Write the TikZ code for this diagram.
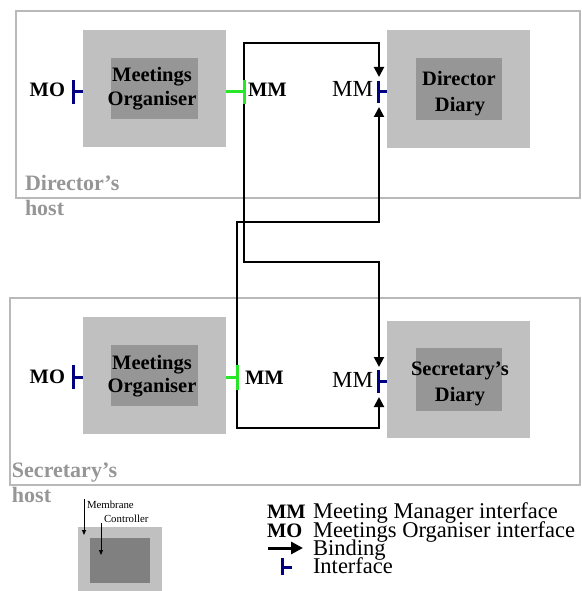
\documentclass[tikz,border=0pt]{standalone}
\usepackage{fontspec}
\setmainfont{Liberation Serif}
\usetikzlibrary{arrows.meta}
\definecolor{membrane}{RGB}{192,192,192}
\definecolor{ctrl}{RGB}{150,150,150}
\definecolor{ctrldark}{RGB}{128,128,128}
\definecolor{hostline}{RGB}{185,185,185}
\definecolor{hosttext}{RGB}{150,150,150}
\definecolor{itfblue}{RGB}{0,0,128}
\definecolor{itfgreen}{RGB}{40,230,40}
\begin{document}
\begin{tikzpicture}[x=1pt,y=-1pt,
  every node/.style={inner sep=0pt, outer sep=0pt},
  hostbox/.style={draw=hostline, line width=2.5pt, anchor=north west},
  membranebox/.style={fill=membrane, anchor=north west},
  ctrlbox/.style={fill=ctrl, anchor=north west},
  comptext/.style={font=\fontsize{20.5}{24}\selectfont\bfseries, anchor=base},
  hosttxt/.style={font=\fontsize{22}{26}\selectfont\bfseries, text=hosttext, anchor=base west},
  itflabel/.style={font=\fontsize{20.5}{24}\selectfont\bfseries},
  difflabel/.style={font=\fontsize{23}{26}\selectfont, anchor=base east},
  binding/.style={draw=black, line width=2pt, -{Triangle[length=10pt,width=10pt]}},
  itfline/.style={line width=3pt},
  legtext/.style={font=\fontsize{22.5}{24}\selectfont, anchor=base west},
  smalltext/.style={font=\fontsize{10.8}{12}\selectfont, anchor=base west},
]
\useasboundingbox (0,0) rectangle (581,591);

% hosts
\node[hostbox, minimum width=564pt, minimum height=187pt] (dhost) at (16,11) {};
\node[hostbox, minimum width=570pt, minimum height=187pt] (shost) at (10,298) {};

% components
\node[membranebox, minimum width=143pt, minimum height=117pt] (dmo) at (83,30) {};
\node[ctrlbox, minimum width=87pt, minimum height=61pt] (dmoc) at (111,58) {};
\node[membranebox, minimum width=143pt, minimum height=118pt] (dd) at (387,30) {};
\node[ctrlbox, minimum width=86pt, minimum height=62pt] (ddc) at (416,58) {};
\node[membranebox, minimum width=143pt, minimum height=117pt] (smo) at (83,317) {};
\node[ctrlbox, minimum width=87pt, minimum height=61pt] (smoc) at (111,345) {};
\node[membranebox, minimum width=143pt, minimum height=117pt] (sd) at (387,321) {};
\node[ctrlbox, minimum width=86pt, minimum height=63pt] (sdc) at (416,348) {};

% interface end points
\coordinate (dMMt) at (244,80);
\coordinate (dMMb) at (244,104);
\coordinate (sMMt) at (237,365);
\coordinate (sMMb) at (237,390);
\coordinate (ddIn1) at (379,77);
\coordinate (ddIn2) at (379,107);
\coordinate (sdIn1) at (379,367);
\coordinate (sdIn2) at (379,397);

% bindings
\draw[binding] (dMMt) -- (dMMt |- 0,43) -| (ddIn1);
\draw[binding] (dMMb) -- (dMMb |- 0,262) -| (sdIn1);
\draw[binding] (sMMt) -- (sMMt |- 0,222) -| (ddIn2);
\draw[binding] (sMMb) -- (sMMb |- 0,428) -| (sdIn2);

% interfaces
\draw[itfline, itfblue] (73,80) -- (73,104) (73,92) -- (dmo.west |- 0,92);
\draw[itfline, itfgreen] (dmo.east |- 0,92) -- (244,92) (dMMt) -- (dMMb);
\draw[itfline, itfblue] (378,81) -- (378,103) (378,92) -- (dd.west |- 0,92);
\draw[itfline, itfblue] (73,365) -- (73,389) (73,377) -- (smo.west |- 0,377);
\draw[itfline, itfgreen] (smo.east |- 0,377) -- (237,377) (sMMt) -- (sMMb);
\draw[itfline, itfblue] (378,370) -- (378,393) (378,381) -- (sd.west |- 0,381);

% labels
\node[itflabel, anchor=base east] (dMO) at (65,97) {MO};
\node[itflabel, anchor=base west] (dMM) at (248,97) {MM};
\node[difflabel] (ddMM) at (373,97) {MM};
\node[itflabel, anchor=base east] (sMO) at (65,383) {MO};
\node[itflabel, anchor=base west] (sMM) at (245,384) {MM};
\node[difflabel] (sdMM) at (373,387) {MM};

\node[comptext] (dmo1) at (152,82) {Meetings};
\node[comptext] (dmo2) at (152,106) {Organiser};
\node[comptext] (dd1) at (459,86) {Director};
\node[comptext] (dd2) at (460,112) {Diary};
\node[comptext] (smo1) at (152,369) {Meetings};
\node[comptext] (smo2) at (152,392) {Organiser};
\node[comptext] (sd1) at (460,375) {Secretary’s};
\node[comptext] (sd2) at (460,401) {Diary};

\node[hosttxt] (dh1) at (25,190) {Director’s};
\node[hosttxt] (dh2) at (25,215) {host};
\node[hosttxt] (sh1) at (12,477) {Secretary’s};
\node[hosttxt] (sh2) at (12,502) {host};

% membrane/controller legend
\node[membranebox, fill=membrane, minimum width=84pt, minimum height=64pt] (lm) at (78,527) {};
\node[ctrlbox, fill=ctrldark, minimum width=60pt, minimum height=45pt] (lc) at (90,538) {};
\node[smalltext] (lmt) at (87,508) {Membrane};
\node[smalltext] (lct) at (104,522) {Controller};
\draw[line width=0.8pt, -{Triangle[length=5pt,width=4pt]}] (84,499) -- (84,535);
\draw[line width=0.8pt, -{Triangle[length=5pt,width=4pt]}] (101,523) -- (101,555);

% legend
\node[itflabel, anchor=base west] (lMM) at (267,518) {MM};
\node[itflabel, anchor=base west] (lMO) at (267,537) {MO};
\node[legtext] (lt1) at (313,518) {Meeting Manager interface};
\node[legtext] (lt2) at (313,537) {Meetings Organiser interface};
\node[legtext] (lt3) at (313,555) {Binding};
\node[legtext] (lt4) at (313,573) {Interface};
\coordinate (la1) at (268,548);
\coordinate (la2) at (303,548);
\draw[line width=3pt, -{Triangle[length=12pt,width=12pt]}] (la1) -- (la2);
\draw[itfline, itfblue] (282,558) -- (282,575) (282,567) -- (292,567);
\end{tikzpicture}
\end{document}
